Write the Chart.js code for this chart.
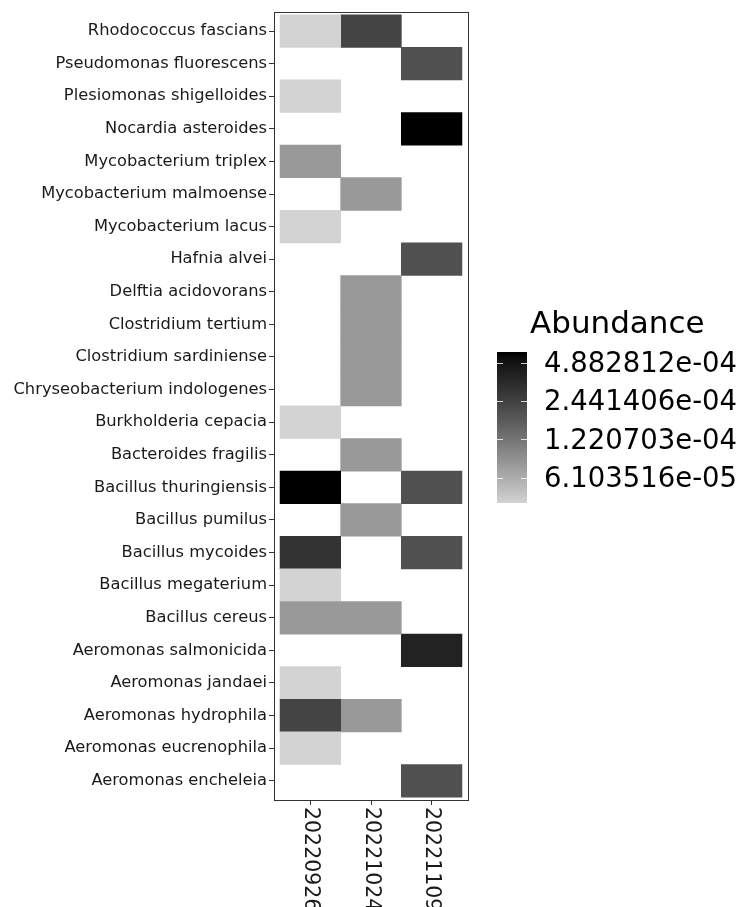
<!DOCTYPE html>
<html>
<head>
<meta charset="utf-8">
<script src="https://cdn.jsdelivr.net/npm/chart.js@4.4.0/dist/chart.umd.min.js"></script>
<style>
  html, body { margin: 0; padding: 0; background: #fff; }
  #wrap { position: relative; width: 743px; height: 907px; }
</style>
</head>
<body>
<div id="wrap"><canvas id="heat" width="743" height="907"></canvas></div>
<script>
// ── Data (rows top to bottom) ────────────────────────────────────────────────
const species = [
  'Rhodococcus fascians', 'Pseudomonas fluorescens', 'Plesiomonas shigelloides',
  'Nocardia asteroides', 'Mycobacterium triplex', 'Mycobacterium malmoense',
  'Mycobacterium lacus', 'Hafnia alvei', 'Delftia acidovorans',
  'Clostridium tertium', 'Clostridium sardiniense', 'Chryseobacterium indologenes',
  'Burkholderia cepacia', 'Bacteroides fragilis', 'Bacillus thuringiensis',
  'Bacillus pumilus', 'Bacillus mycoides', 'Bacillus megaterium',
  'Bacillus cereus', 'Aeromonas salmonicida', 'Aeromonas jandaei',
  'Aeromonas hydrophila', 'Aeromonas eucrenophila', 'Aeromonas encheleia',
];
const samples = ['20220926', '20221024', '20221109'];

const abundance20220926 = [
  3.85e-5, null, 3.85e-5, null, 7.7e-5, null, 3.85e-5, null, null, null, null, null,
  3.85e-5, null, 5.96e-4, null, 3.0e-4, 3.85e-5, 7.7e-5, null, 3.85e-5, 2.34e-4, 3.85e-5, null,
];
const abundance20221024 = [
  2.34e-4, null, null, null, null, 7.7e-5, null, null, 7.7e-5, 7.7e-5, 7.7e-5, 7.7e-5,
  null, 7.7e-5, null, 7.7e-5, null, null, 7.7e-5, null, null, 7.7e-5, null, null,
];
const abundance20221109 = [
  null, 1.98e-4, null, 5.96e-4, null, null, null, 1.98e-4, null, null, null, null,
  null, null, 1.98e-4, null, 1.98e-4, null, null, 3.9e-4, null, null, null, 1.98e-4,
];

const legendBreaks = [4.882812e-04, 2.441406e-04, 1.220703e-04, 6.103516e-05];
const legendLabels = ['4.882812e-04', '2.441406e-04', '1.220703e-04', '6.103516e-05'];
const fillLimits = [3.85e-5, 5.96e-4];

// ── Colour scale: lightgrey -> black on log2, interpolated in L* ─────────────
const FONT = '"DejaVu Sans", sans-serif';
const L_LOW = 84.56;

function fillPos(v) {
  const lo = Math.log2(fillLimits[0]);
  const hi = Math.log2(fillLimits[1]);
  return Math.min(1, Math.max(0, (Math.log2(v) - lo) / (hi - lo)));
}

function greyFor(v) {
  if (v == null) return 'rgba(0,0,0,0)';
  const L = L_LOW * (1 - fillPos(v));
  const Y = L > 8 ? Math.pow((L + 16) / 116, 3) : L / 903.3;
  const s = Y <= 0.0031308 ? 12.92 * Y : 1.055 * Math.pow(Y, 1 / 2.4) - 0.055;
  const g = Math.round(Math.max(0, Math.min(1, s)) * 255);
  return `rgb(${g},${g},${g})`;
}

const columns = [abundance20220926, abundance20221024, abundance20221109];

const datasets = columns.map((vals, c) => ({
  label: samples[c],
  data: vals.map((v, r) => ({ y: r, x: v == null ? null : [c - 0.5, c + 0.5], v })),
  backgroundColor: (ctx) => greyFor(ctx.raw && ctx.raw.v),
  borderWidth: 0,
  grouped: false,
  barPercentage: 1,
  categoryPercentage: 1,
}));

// ── Plugins: panel border, rotated x labels, colourbar legend ────────────────
const panelPlugin = {
  id: 'panel',
  afterDraw(chart) {
    const { ctx, chartArea: a, scales } = chart;
    ctx.save();
    ctx.strokeStyle = '#333';
    ctx.lineWidth = 1;
    ctx.strokeRect(Math.round(a.left) + 0.5, Math.round(a.top) + 0.5,
      Math.round(a.right - a.left), Math.round(a.bottom - a.top));

    // x labels read top to bottom
    ctx.fillStyle = '#1a1a1a';
    ctx.font = `20.5px ${FONT}`;
    ctx.textAlign = 'left';
    ctx.textBaseline = 'middle';
    samples.forEach((s, i) => {
      const x = scales.x.getPixelForValue(i);
      ctx.save();
      ctx.translate(x, a.bottom + 7);
      ctx.rotate(Math.PI / 2);
      ctx.fillText(s, 0, 0);
      ctx.restore();
    });
    ctx.restore();
  },
};

const colourbarPlugin = {
  id: 'colourbar',
  afterDraw(chart) {
    const { ctx } = chart;
    const bar = { x: 497, y: 352, w: 30, h: 151 };
    ctx.save();
    ctx.fillStyle = '#000';
    ctx.font = `31px ${FONT}`;
    ctx.textAlign = 'left';
    ctx.textBaseline = 'alphabetic';
    ctx.fillText('Abundance', 530, 333);

    const lo = Math.log2(fillLimits[0]);
    const hi = Math.log2(fillLimits[1]);
    const grad = ctx.createLinearGradient(0, bar.y + bar.h, 0, bar.y);
    for (let i = 0; i <= 20; i++) {
      const t = i / 20;
      grad.addColorStop(t, greyFor(Math.pow(2, lo + t * (hi - lo))));
    }
    ctx.fillStyle = grad;
    ctx.fillRect(bar.x, bar.y, bar.w, bar.h);

    ctx.font = `27.5px ${FONT}`;
    ctx.textBaseline = 'middle';
    legendBreaks.forEach((b, i) => {
      const y = bar.y + bar.h - fillPos(b) * bar.h;
      ctx.strokeStyle = 'rgba(255,255,255,0.8)';
      ctx.lineWidth = 1;
      ctx.beginPath();
      ctx.moveTo(bar.x, Math.round(y) + 0.5);
      ctx.lineTo(bar.x + 6, Math.round(y) + 0.5);
      ctx.moveTo(bar.x + bar.w - 6, Math.round(y) + 0.5);
      ctx.lineTo(bar.x + bar.w, Math.round(y) + 0.5);
      ctx.stroke();
      ctx.fillStyle = '#000';
      ctx.fillText(legendLabels[i], 544, y + 2);
    });
    ctx.restore();
  },
};

new Chart(document.getElementById('heat'), {
  type: 'bar',
  data: { datasets },
  options: {
    indexAxis: 'y',
    responsive: false,
    animation: false,
    layout: { padding: { left: 0, top: 8, right: 275, bottom: 0 } },
    plugins: { legend: { display: false }, tooltip: { enabled: false } },
    scales: {
      y: {
        type: 'linear',
        reverse: true,
        offset: false,
        min: -0.59,
        max: species.length - 1 + 0.59,
        afterBuildTicks: (s) => { s.ticks = species.map((_, i) => ({ value: i })); },
        afterFit: (s) => { s.width = 274; },
        ticks: {
          autoSkip: false,
          padding: 2,
          color: '#1a1a1a',
          font: { family: FONT, size: 16.3 },
          callback: (v) => species[v],
        },
        grid: { offset: false, drawOnChartArea: false, drawTicks: true, tickLength: 5, color: '#333', lineWidth: 1 },
        border: { display: false },
      },
      x: {
        type: 'linear',
        offset: false,
        min: -0.6,
        max: samples.length - 1 + 0.6,
        afterBuildTicks: (s) => { s.ticks = samples.map((_, i) => ({ value: i })); },
        afterFit: (s) => { s.height = 107; },
        ticks: { display: false },
        grid: { offset: false, drawOnChartArea: false, drawTicks: true, tickLength: 5, color: '#333', lineWidth: 1 },
        border: { display: false },
      },
    },
  },
  plugins: [panelPlugin, colourbarPlugin],
});
</script>
</body>
</html>
